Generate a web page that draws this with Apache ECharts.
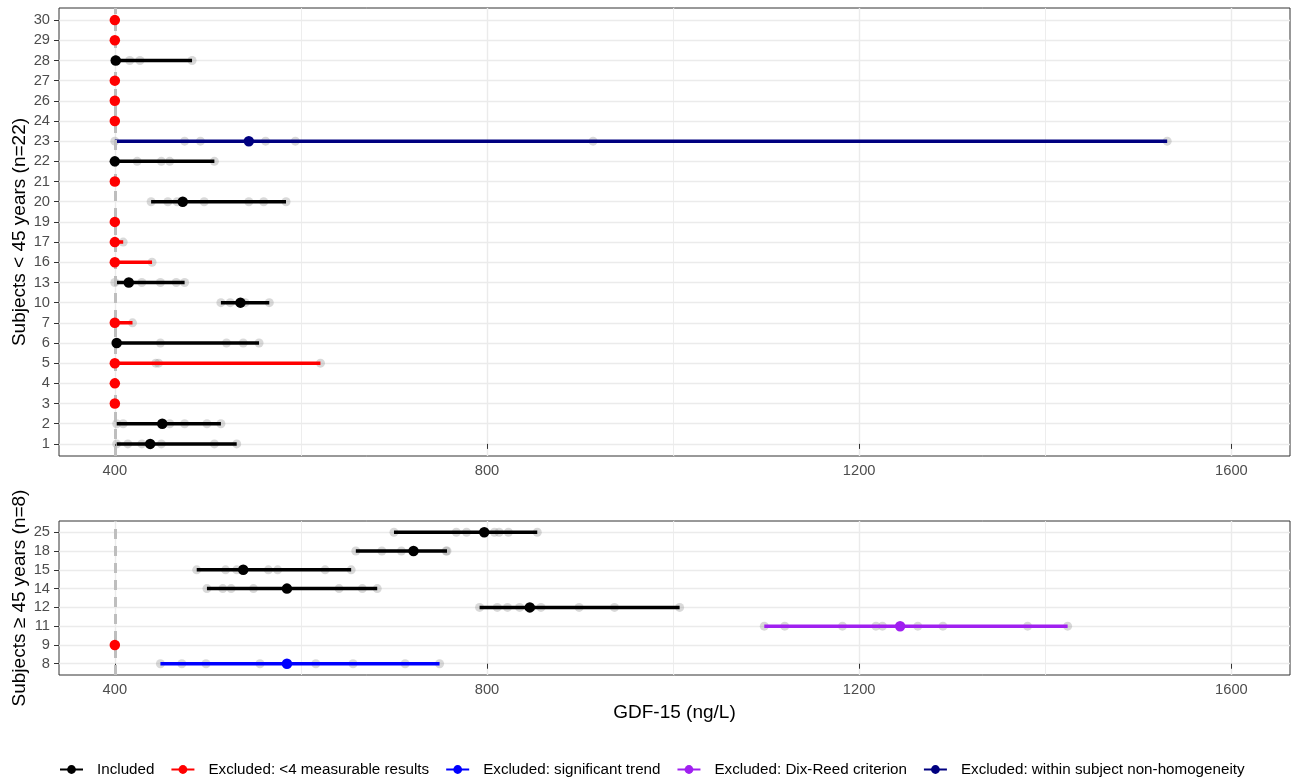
<!DOCTYPE html>
<html><head><meta charset="utf-8">
<script src="https://cdn.jsdelivr.net/npm/echarts@6/dist/echarts.min.js"></script>
<style>html,body{margin:0;padding:0;background:#fff}#c{width:1291px;height:778px}</style>
</head><body><div id="c"></div>
<script>
// ---------- data ----------
const groupNames = ['Included', 'Excluded: <4 measurable results', 'Excluded: significant trend', 'Excluded: Dix-Reed criterion', 'Excluded: within subject non-homogeneity'];
const groupColors = ['#000000', '#ff0000', '#0000ff', '#a020f0', '#000080'];

const topSubjects = ['1','2','3','4','5','6','7','10','13','16','17','19','20','21','22','23','24','26','27','28','29','30'];
const topGroups   = [0,0,1,1,1,0,1,0,0,1,1,1,0,1,0,4,1,1,1,0,1,1];
const topMeans    = [438,451,400,400,400,402,400,535,415,400,400,400,473,400,400,544,400,400,400,401,400,400];
const topPoints = [
  [402,414,429,450,507,531],
  [402,409,459,475,499,514],
  [400],
  [400],
  [400,444,447,621],
  [402,449,520,538,555],
  [400,419],
  [514,524,535,540,566],
  [400,415,429,449,466,475],
  [400,440],
  [400,409],
  [400],
  [439,457,467,473,496,544,560,584],
  [400],
  [400,424,450,459,507],
  [400,475,492,562,594,914,1531],
  [400],
  [400],
  [400],
  [400,416,427,483],
  [400],
  [400]
];

const bottomSubjects = ['8','9','11','12','14','15','18','25'];
const bottomGroups   = [2,1,3,0,0,0,0,0];
const bottomMeans    = [585,400,1244,846,585,538,721,797];
const bottomPoints = [
  [449,472,498,556,616,656,712,749],
  [400],
  [1098,1120,1182,1218,1225,1263,1290,1381,1424],
  [792,811,822,835,858,899,937,1007],
  [499,516,525,549,641,666,682],
  [488,519,531,565,575,626,654],
  [659,687,708,756,757],
  [700,767,778,808,813,823,854]
];

const xTicks = [400, 800, 1200, 1600];
const xMinorTicks = [600, 1000, 1400];
const xMin = 340, xMax = 1663;
const refLine = 400;
const topTitle = 'Subjects < 45 years (n=22)';
const bottomTitle = 'Subjects \u2265 45 years (n=8)';
const xTitle = 'GDF-15 (ng/L)';

// ---------- build ----------
const FONT = '"Liberation Sans", Arial, Helvetica, sans-serif';
const TICK_FS = 14.7, TITLE_FS = 19, LEGEND_FS = 15.2;
const panels = [
  {subjects: topSubjects, groups: topGroups, means: topMeans, points: topPoints, title: topTitle},
  {subjects: bottomSubjects, groups: bottomGroups, means: bottomMeans, points: bottomPoints, title: bottomTitle}
];

const grids = [
  {left: 59, right: 1, top: 8, height: 448},
  {left: 59, right: 1, top: 521, height: 154}
].map(g => Object.assign(g, {show: true, borderColor: '#333333', borderWidth: 1, backgroundColor: 'transparent', containLabel: false, outerBoundsMode: 'none'}));

const xAxes = [], yAxes = [];
panels.forEach((p, pi) => {
  xAxes.push({
    gridIndex: pi, type: 'value', min: xMin, max: xMax,
    axisLine: {show: false},
    axisTick: {show: true, customValues: xTicks, length: 5, lineStyle: {color: '#333333', width: 1}},
    axisLabel: {customValues: xTicks, formatter: v => String(v), color: '#4d4d4d', fontSize: TICK_FS, margin: 7, fontFamily: FONT},
    splitLine: {show: true, lineStyle: {color: '#ebebeb', width: 1.4}},
    name: pi === 1 ? xTitle : '', nameLocation: 'middle', nameGap: 28, nameMoveOverlap: false,
    nameTextStyle: {color: '#000', fontSize: TITLE_FS, fontFamily: FONT}
  });
  xAxes.push({
    gridIndex: pi, type: 'value', min: xMin, max: xMax, position: 'top',
    axisLine: {show: false},
    axisTick: {show: false, customValues: xMinorTicks},
    axisLabel: {show: false, customValues: xMinorTicks},
    splitLine: {show: true, lineStyle: {color: '#ebebeb', width: 0.9}}
  });
  const idx = p.subjects.map((s, i) => i);
  yAxes.push({
    gridIndex: pi, type: 'value', min: -0.6, max: p.subjects.length - 0.4,
    axisLine: {show: false},
    axisTick: {show: true, customValues: idx, length: 5, lineStyle: {color: '#333333', width: 1}},
    axisLabel: {customValues: idx, formatter: v => p.subjects[Math.round(v)], color: '#4d4d4d', fontSize: TICK_FS, margin: 9, fontFamily: FONT},
    splitLine: {show: true, lineStyle: {color: '#ebebeb', width: 1.4}},
    name: p.title, nameLocation: 'middle', nameGap: 30, nameRotate: 90, nameMoveOverlap: false,
    nameTextStyle: {color: '#000', fontSize: TITLE_FS, fontFamily: FONT}
  });
});

const series = [];
// segment line series first (legend icons)
panels.forEach((p, pi) => {
  groupNames.forEach((gName, g) => {
    const data = [];
    p.points.forEach((pts, i) => {
      if (p.groups[i] !== g || pts.length < 2) return;
      data.push([Math.min(...pts), i], [Math.max(...pts), i], ['-', '-']);
    });
    series.push({
      type: 'line', name: gName, xAxisIndex: pi * 2, yAxisIndex: pi, data,
      symbol: 'circle', symbolSize: 10, showSymbol: false, connectNulls: false,
      lineStyle: {color: groupColors[g], width: 3.5, cap: 'butt'},
      itemStyle: {color: groupColors[g]}, z: 4, silent: true, animation: false
    });
  });
});
panels.forEach((p, pi) => {
  // reference dashed line
  series.push({
    type: 'scatter', name: 'ref' + pi, xAxisIndex: pi * 2, yAxisIndex: pi, data: [],
    silent: true, z: 2, animation: false,
    markLine: {silent: true, symbol: ['none', 'none'], label: {show: false}, animation: false,
      lineStyle: {color: '#bebebe', width: 3, type: [10, 7]}, data: [{xAxis: refLine}]}
  });
  // individual measurements
  const pdata = [];
  p.points.forEach((pts, i) => pts.forEach(v => pdata.push([v, i])));
  series.push({
    type: 'scatter', name: 'pts' + pi, xAxisIndex: pi * 2, yAxisIndex: pi, data: pdata,
    symbolSize: 9, itemStyle: {color: 'rgba(150,150,150,0.45)'}, z: 3, silent: true, animation: false
  });
  // means
  groupNames.forEach((gName, g) => {
    const data = [];
    p.means.forEach((m, i) => { if (p.groups[i] === g) data.push([m, i]); });
    if (!data.length) return;
    series.push({
      type: 'scatter', name: gName, xAxisIndex: pi * 2, yAxisIndex: pi, data,
      symbolSize: 10.5, itemStyle: {color: groupColors[g], opacity: 1}, z: 5, silent: true, animation: false
    });
  });
});

const chart = echarts.init(document.getElementById('c'), null, {renderer: 'canvas'});
chart.setOption({
  backgroundColor: '#ffffff',
  animation: false,
  textStyle: {fontFamily: FONT},
  grid: grids, xAxis: xAxes, yAxis: yAxes, series,
  legend: {
    data: groupNames, left: 59, top: 762, padding: 0, itemWidth: 23, itemHeight: 11, itemGap: 16,
    textStyle: {color: '#000', fontSize: LEGEND_FS, fontFamily: FONT, padding: [0, 0, 0, 9]}, selectedMode: false
  }
});
</script></body></html>
